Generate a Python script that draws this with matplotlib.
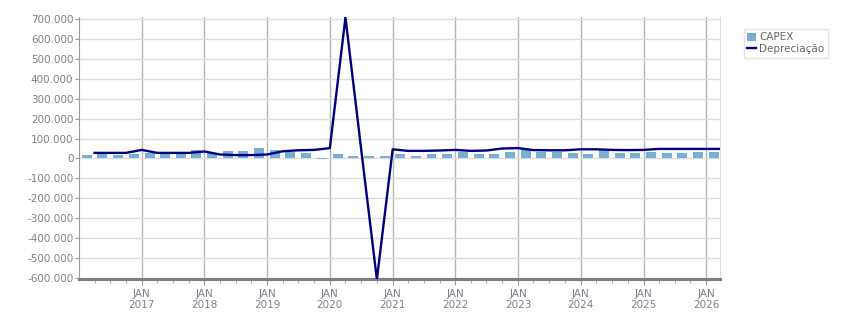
import numpy as np
import pandas as pd
import matplotlib
matplotlib.use("Agg")
import matplotlib.pyplot as plt
import matplotlib.dates as mdates
from matplotlib.ticker import FuncFormatter, MultipleLocator

# CAPEX, quarterly (2016Q1 .. 2026Q1)
capex_quarters = pd.period_range("2016Q1", "2026Q1", freq="Q")
capex = [17000, 27000, 17000, 23000,
         27000, 27000, 27000, 40000,
         25000, 37000, 37000, 52000,
         40000, 30000, 28000, -3000,
         23000, 13000, 13000, 13000,
         20000, 13000, 23000, 23000,
         32000, 23000, 23000, 33000,
         40000, 33000, 33000, 28000,
         23000, 40000, 28000, 28000,
         33000, 28000, 28000, 33000,
         33000]

# Depreciacao, quarter starts (Apr 2016 .. Apr 2026)
dep_dates = pd.date_range("2016-04-01", "2026-04-01", freq="QS")
depreciacao = [28000, 28000, 28000,
               43000, 28000, 28000, 28000,
               35000, 20000, 17000, 17000,
               20000, 36000, 41000, 43000,
               52000, 708000, 50000, -607000,
               46000, 38000, 38000, 40000,
               43000, 38000, 40000, 50000,
               52000, 42000, 41000, 41000,
               46000, 46000, 43000, 42000,
               43000, 48000, 48000, 48000,
               48000, 48000]

years = list(range(2017, 2027))

txt = "#7f7f8c"

fig = plt.figure(figsize=(8.51, 3.13), dpi=100)
ax = fig.add_axes([0.0928, 0.1086, 0.7532, 0.8371])

# bars centred mid-quarter
bar_x = [p.start_time + pd.Timedelta(days=45) for p in capex_quarters]
bars = ax.bar(bar_x, capex, width=58, color="#78b0d3", label="CAPEX", zorder=2)
line, = ax.plot(dep_dates, depreciacao, color="#000080", lw=1.7, label="Depreciação", zorder=3)

ax.set_xlim(pd.Timestamp("2016-01-01"), pd.Timestamp("2026-03-22"))
ax.set_ylim(-605000, 710000)

ax.yaxis.set_major_locator(MultipleLocator(100000))
ax.yaxis.set_major_formatter(FuncFormatter(lambda v, p: f"{v:,.0f}".replace(",", ".")))

ax.set_xticks([mdates.date2num(pd.Timestamp(f"{y}-01-01")) for y in years])
ax.set_xticklabels([f"JAN\n{y}" for y in years])
ax.set_xticks(mdates.date2num(pd.date_range("2016-04-01", "2026-03-01", freq="QS")), minor=True)

ax.grid(axis="y", color="#dcdcdc", lw=1, zorder=0)
for y in years:
    ax.axvline(pd.Timestamp(f"{y}-01-01"), color="#b4b4b4", lw=1, zorder=1)

ax.spines["top"].set_visible(False)
ax.spines["right"].set_color("#dcdcdc")
ax.spines["left"].set_color("#999999")
ax.spines["bottom"].set_color("#7f7f7f")
ax.spines["bottom"].set_linewidth(2.2)

ax.tick_params(axis="y", colors="#999999", labelcolor=txt, labelsize=7.5, length=3, pad=1)
ax.tick_params(axis="x", which="major", colors="#999999", labelcolor=txt, labelsize=7.5, length=4, pad=3)
ax.tick_params(axis="x", which="minor", colors="#999999", length=3)

leg = fig.legend([bars, line], ["CAPEX", "Depreciação"], loc="upper left",
                 bbox_to_anchor=(0.874, 0.908), fontsize=7.5,
                 frameon=True, fancybox=False, handlelength=0.8, handleheight=0.8,
                 handletextpad=0.3, borderpad=0.35, labelspacing=0.15, borderaxespad=0)
leg.get_frame().set_edgecolor("#dddddd")
leg.get_frame().set_linewidth(1)
for t in leg.get_texts():
    t.set_color("#666666")

fig.savefig("out.png", dpi=100)
